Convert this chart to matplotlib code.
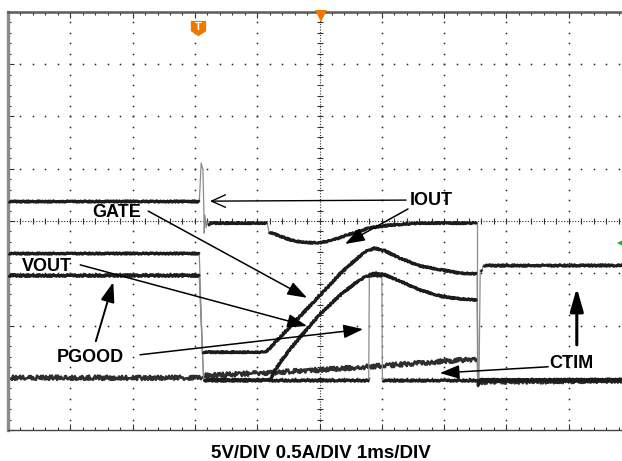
import numpy as np
import matplotlib
matplotlib.use('Agg')
import matplotlib.pyplot as plt
from matplotlib.patches import FancyArrowPatch
from matplotlib.path import Path
from matplotlib.ticker import MultipleLocator

# ---- data: time in ms from left screen edge (1 ms/div), amplitude in divisions ----
IOUT_t = [0, 3.07, 3.08, 3.10, 3.13, 3.15, 3.16, 3.18, 3.19, 3.21, 3.24, 4.16, 4.19,
          4.37, 4.53, 4.69, 4.96, 5.17, 5.49, 5.81, 6.13, 6.61, 7.53, 7.53, 7.58, 10.0]
IOUT_v = [4.38, 4.38, 4.59, 5.11, 4.98, 3.77, 4.11, 3.87, 4.00, 3.92, 3.96, 3.96, 3.79,
          3.71, 3.64, 3.60, 3.58, 3.62, 3.75, 3.87, 3.92, 3.96, 3.96, 0.84, 0.96, 0.96]

GATE_t = [0, 3.07, 3.12, 3.16, 4.14, 4.37, 4.69, 5.01, 5.33, 5.57, 5.73, 5.88,
          6.05, 6.29, 6.61, 6.98, 7.26, 7.53, 7.54, 10.0]
GATE_v = [3.39, 3.39, 1.49, 1.49, 1.49, 1.78, 2.18, 2.58, 2.99, 3.25, 3.41, 3.48,
          3.43, 3.29, 3.14, 3.06, 3.00, 2.99, 0.96, 0.96]

VOUT_t = [0, 3.07, 3.14, 3.18, 4.21, 4.25, 4.37, 4.53, 4.69, 5.01, 5.33, 5.57, 5.73,
          5.89, 6.05, 6.29, 6.61, 6.98, 7.26, 7.53, 7.55, 10.0]
VOUT_v = [2.97, 2.97, 0.96, 0.96, 0.96, 1.07, 1.30, 1.55, 1.78, 2.22, 2.58, 2.81, 2.93,
          3.00, 2.97, 2.85, 2.68, 2.55, 2.51, 2.49, 0.96, 0.96]

PGOOD_t = [0, 3.07, 3.14, 5.79, 5.80, 6.00, 6.01, 7.56, 7.58, 7.61, 7.63, 10.0]
PGOOD_v = [2.97, 2.97, 0.96, 0.96, 2.97, 2.97, 0.96, 0.96, 3.06, 3.06, 3.16, 3.16]

CTIM_t = [0, 3.07, 3.16, 4.21, 5.01, 6.13, 7.53, 7.54, 10.0]
CTIM_v = [1.00, 1.00, 1.04, 1.10, 1.15, 1.24, 1.36, 0.92, 0.95]

LABELS = ["GATE", "VOUT", "PGOOD", "IOUT", "CTIM"]
CAPTION = "5V/DIV 0.5A/DIV 1ms/DIV"

FONT = 'Liberation Sans'

fig = plt.figure(figsize=(6.22, 4.61), dpi=100)
fig.patch.set_facecolor('white')
ax = fig.add_axes([8 / 622, 31 / 461, 623 / 622, 418 / 461])
ax.set_xlim(0, 10)
ax.set_ylim(0, 8)
ax.set_facecolor('white')

# ---- frame / ticks ----
ax.spines['right'].set_visible(False)
ax.spines['left'].set_linewidth(2.4)
ax.spines['left'].set_color('#8a8a8a')
ax.spines['top'].set_linewidth(1.8)
ax.spines['top'].set_color('#5a5a5a')
ax.spines['bottom'].set_linewidth(1.0)
ax.spines['bottom'].set_color('#444444')
ax.xaxis.set_major_locator(MultipleLocator(1))
ax.xaxis.set_minor_locator(MultipleLocator(0.2))
ax.yaxis.set_major_locator(MultipleLocator(1))
ax.yaxis.set_minor_locator(MultipleLocator(0.2))
ax.tick_params(which='both', direction='in', top=True, bottom=True, left=True, right=False,
               labelbottom=False, labelleft=False, color='#333333', width=0.8)
ax.tick_params(which='major', length=4)
ax.tick_params(which='minor', length=2.5)

# ---- graticule dots ----
xs_minor = np.arange(0, 10.001, 0.2)
ys_minor = np.arange(0, 8.001, 0.2)
for j in range(1, 8):
    if j == 4:
        continue
    ax.plot(xs_minor, np.full_like(xs_minor, j), ls='none', marker='s', ms=1.1,
            mew=0, color='#222222', zorder=1)
for i in range(1, 10):
    if i == 5:
        continue
    ax.plot(np.full_like(ys_minor, i), ys_minor, ls='none', marker='s', ms=1.1,
            mew=0, color='#222222', zorder=1)
# center axes with minor ticks
ax.plot([5, 5], [0, 8], ls=(0, (1, 1.5)), lw=0.8, color='#333333', zorder=1)
ax.plot([0, 10], [4, 4], ls=(0, (1, 1.5)), lw=0.8, color='#333333', zorder=1)
ax.plot(np.full_like(ys_minor, 5), ys_minor, ls='none', marker='_', ms=4, mew=0.8,
        color='#333333', zorder=1)
ax.plot(xs_minor, np.full_like(xs_minor, 4), ls='none', marker='|', ms=4, mew=0.8,
        color='#333333', zorder=1)


# ---- traces ----
def draw_trace(t, v, lw_flat, color_flat='#1c1c1c', sketch=(0.7, 3, 2), z=3):
    t = np.asarray(t, float)
    v = np.asarray(v, float)
    pts = ax.transData.transform(np.column_stack([t, v]))
    kinds = []
    for i in range(len(t) - 1):
        dx = abs(pts[i + 1, 0] - pts[i, 0])
        dy = abs(pts[i + 1, 1] - pts[i, 1])
        kinds.append('edge' if dy > 2.5 * max(dx, 1e-9) else 'flat')
    i = 0
    while i < len(kinds):
        k = kinds[i]
        j = i
        while j + 1 < len(kinds) and kinds[j + 1] == k:
            j += 1
        xs = t[i:j + 2]
        ys = v[i:j + 2]
        if k == 'flat':
            ln, = ax.plot(xs, ys, color=color_flat, lw=lw_flat, solid_capstyle='butt',
                          solid_joinstyle='round', zorder=z)
            if sketch is not None:
                ln.set_sketch_params(*sketch)
        else:
            ax.plot(xs, ys, color='#8c8c8c', lw=0.9, zorder=z - 0.5)
        i = j + 1


draw_trace(CTIM_t, CTIM_v, 1.8, color_flat='#2e2e2e', sketch=(2.2, 2.5, 2), z=2.5)
draw_trace(PGOOD_t, PGOOD_v, 2.1, color_flat='#1e1e1e', sketch=(0.9, 3, 2))
draw_trace(VOUT_t, VOUT_v, 2.2)
draw_trace(GATE_t, GATE_v, 2.2)
draw_trace(IOUT_t, IOUT_v, 2.2)

# ---- markers ----
shield = Path([(-1, 1), (1, 1), (1, -0.35), (0, -1), (-1, -0.35), (-1, 1)],
              [Path.MOVETO, Path.LINETO, Path.LINETO, Path.LINETO, Path.LINETO, Path.CLOSEPOLY])
ax.plot([3.05], [7.70], marker=shield, ms=11, color='#f07800', mew=0, zorder=5, clip_on=False)
ax.text(3.05, 7.72, 'T', color='white', fontsize=8, fontweight='bold', family=FONT,
        ha='center', va='center', zorder=6)
ax.plot([5.02], [7.93], marker='v', ms=8, color='#f07800', mew=0, zorder=5, clip_on=False)
ax.plot([9.83], [3.58], marker='<', ms=5, color='#22aa22', mew=0, zorder=5, clip_on=False)

# ---- labels ----
label_pos = {"GATE": (1.36, 4.07), "VOUT": (0.22, 3.05), "PGOOD": (0.79, 1.30),
             "IOUT": (6.45, 4.31), "CTIM": (8.68, 1.19)}
for name in LABELS:
    x, y = label_pos[name]
    ax.text(x, y, name, ha='left', va='baseline', fontsize=13, fontweight='bold',
            family=FONT, color='black', zorder=7)


def arrow(tail, tip, lw=1.1, style='-|>,head_length=12,head_width=4.2'):
    ax.add_patch(FancyArrowPatch(tail, tip, arrowstyle=style, mutation_scale=1,
                                 lw=lw, color='black', shrinkA=0, shrinkB=0, zorder=7))


arrow((2.25, 4.19), (4.80, 2.53))          # GATE
arrow((1.16, 3.16), (4.80, 1.99))          # VOUT
arrow((1.41, 1.70), (1.69, 2.83), lw=1.4)  # PGOOD up
arrow((2.12, 1.44), (5.70, 1.93))          # PGOOD right
arrow((6.39, 4.40), (3.24, 4.38), lw=1.0, style='->,head_length=10,head_width=4.5')  # IOUT left
arrow((6.42, 4.23), (5.41, 3.56))          # IOUT down
arrow((8.67, 1.21), (6.93, 1.09))          # CTIM left
arrow((9.13, 1.63), (9.13, 2.72), lw=2.2, style='-|>,head_length=14,head_width=4.0')  # up

fig.text(321 / 622, 3.5 / 461, CAPTION, ha='center', va='baseline', fontsize=13.5,
         fontweight='bold', family=FONT)

fig.savefig('out.png', dpi=100, facecolor='white')
